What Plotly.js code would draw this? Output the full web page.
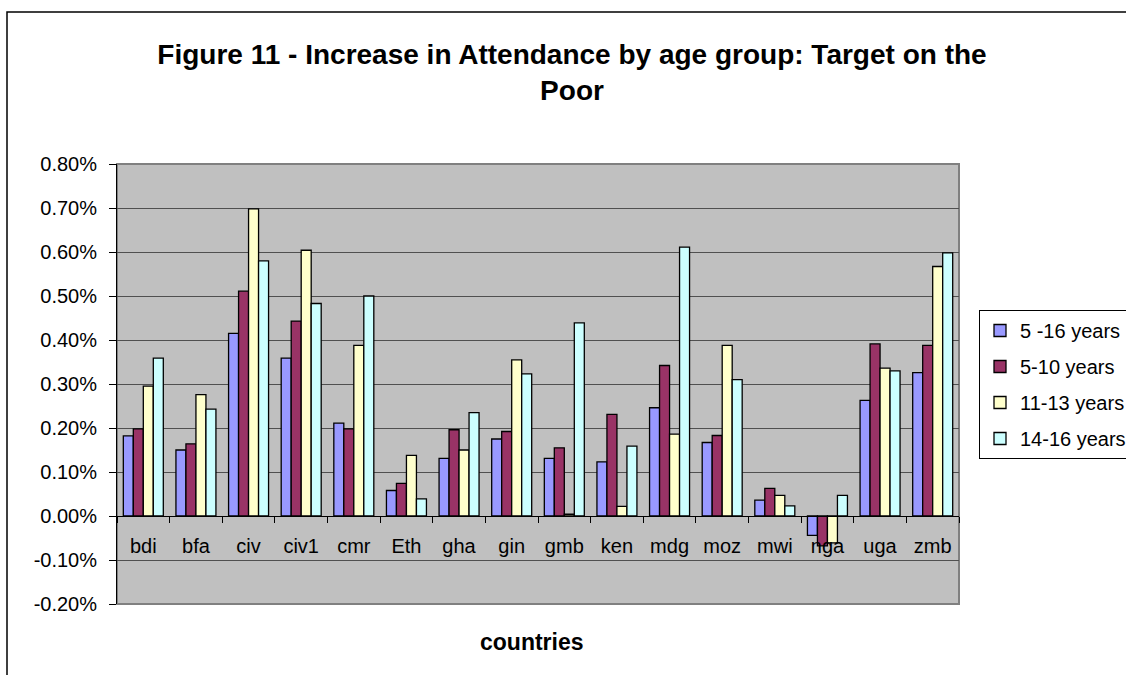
<!DOCTYPE html>
<html>
<head>
<meta charset="utf-8">
<script src="https://cdn.plot.ly/plotly-3.0.1.min.js"></script>
<style>html,body{margin:0;padding:0;background:#fff;}#chart{width:1126px;height:675px;}</style>
</head>
<body>
<div id="chart"></div>
<script>
const countries = ["bdi","bfa","civ","civ1","cmr","Eth","gha","gin","gmb","ken","mdg","moz","mwi","nga","uga","zmb"];
const seriesNames = ["5 -16 years","5-10 years","11-13 years","14-16 years"];
// values in percent
const age5to16  = [0.182,0.150,0.415,0.359,0.211,0.058,0.131,0.175,0.131,0.123,0.246,0.167,0.036,-0.044,0.263,0.326];
const age5to10  = [0.198,0.164,0.511,0.443,0.198,0.074,0.196,0.192,0.155,0.231,0.342,0.183,0.063,-0.068,0.391,0.388];
const age11to13 = [0.295,0.276,0.698,0.604,0.388,0.138,0.150,0.355,0.004,0.022,0.186,0.388,0.047,-0.061,0.336,0.567];
const age14to16 = [0.359,0.243,0.580,0.483,0.500,0.039,0.235,0.323,0.439,0.159,0.611,0.310,0.023,0.047,0.330,0.598];
const yTickValues = [-0.20,-0.10,0.00,0.10,0.20,0.30,0.40,0.50,0.60,0.70,0.80];
const yTickLabels = ["-0.20%","-0.10%","0.00%","0.10%","0.20%","0.30%","0.40%","0.50%","0.60%","0.70%","0.80%"];
const colors = ["#9999FF","#993366","#FFFFCC","#CCFFFF"];

const allSeries = [age5to16, age5to10, age11to13, age14to16];
const traces = allSeries.map((vals, i) => ({
  type: "bar",
  name: seriesNames[i],
  legendgroup: "g" + i,
  x: countries,
  y: vals,
  marker: {color: colors[i], line: {color: "#000000", width: 1.3}},
  hoverinfo: "x+y"
}));

const W = 1126, H = 675, L = 117, R = 959, T = 164, B = 604;
const pw = R - L, ph = B - T;
const px = v => (v - L) / pw;
const py = v => (B - v) / ph;
const FONT = "Arial, 'Liberation Sans', sans-serif";

const layout = {
  width: W, height: H,
  margin: {l: L, r: W - R, t: T, b: H - B, autoexpand: false},
  paper_bgcolor: "#FFFFFF",
  plot_bgcolor: "#C0C0C0",
  font: {family: FONT, size: 20, color: "#000000"},
  barmode: "group",
  bargap: 0.24,
  bargroupgap: 0,
  showlegend: true,
  title: {
    text: "<b>Figure 11 - Increase in Attendance by age group: Target on the<br>Poor</b>",
    font: {family: FONT, size: 28, color: "#000000"},
    x: px(572), xanchor: "center", xref: "paper",
    y: 1 - 64 / H, yanchor: "middle", yref: "container"
  },
  xaxis: {
    type: "category",
    anchor: "free",
    position: 0.2,
    showline: true, linecolor: "#000000", linewidth: 1,
    ticks: "outside", tickson: "boundaries", ticklen: 6, tickcolor: "#000000",
    ticklabelstandoff: 12,
    showgrid: false,
    tickfont: {size: 20},
    fixedrange: true
  },
  yaxis: {
    range: [-0.2, 0.8],
    tickmode: "array",
    tickvals: yTickValues,
    ticktext: yTickLabels,
    showline: true, linecolor: "#000000", linewidth: 1,
    ticks: "outside", ticklen: 7, tickcolor: "#000000",
    ticklabelstandoff: 8,
    showgrid: true, gridcolor: "#505050", gridwidth: 1,
    zeroline: false,
    tickfont: {size: 20},
    fixedrange: true
  },
  legend: {
    x: px(979), xanchor: "left", xref: "paper",
    y: py(310), yanchor: "top", yref: "paper",
    bordercolor: "#000000", borderwidth: 1,
    bgcolor: "#FFFFFF",
    font: {size: 20},
    itemwidth: 30,
    tracegroupgap: 7
  },
  annotations: [{
    text: "<b>countries</b>",
    xref: "paper", yref: "paper",
    x: px(532), y: py(642), xanchor: "center", yanchor: "middle",
    showarrow: false, font: {size: 23}
  }],
  shapes: [
    {type: "rect", xref: "paper", yref: "paper", x0: 0, x1: 1, y0: 0, y1: 1,
     line: {color: "#808080", width: 2}, fillcolor: "rgba(0,0,0,0)", layer: "below"},
    {type: "rect", xref: "paper", yref: "paper", x0: px(7), x1: px(1140), y0: py(690), y1: py(12),
     line: {color: "#000000", width: 1.5}, fillcolor: "rgba(0,0,0,0)"}
  ]
};

Plotly.newPlot("chart", traces, layout, {displayModeBar: false, staticPlot: true});
</script>
</body>
</html>
